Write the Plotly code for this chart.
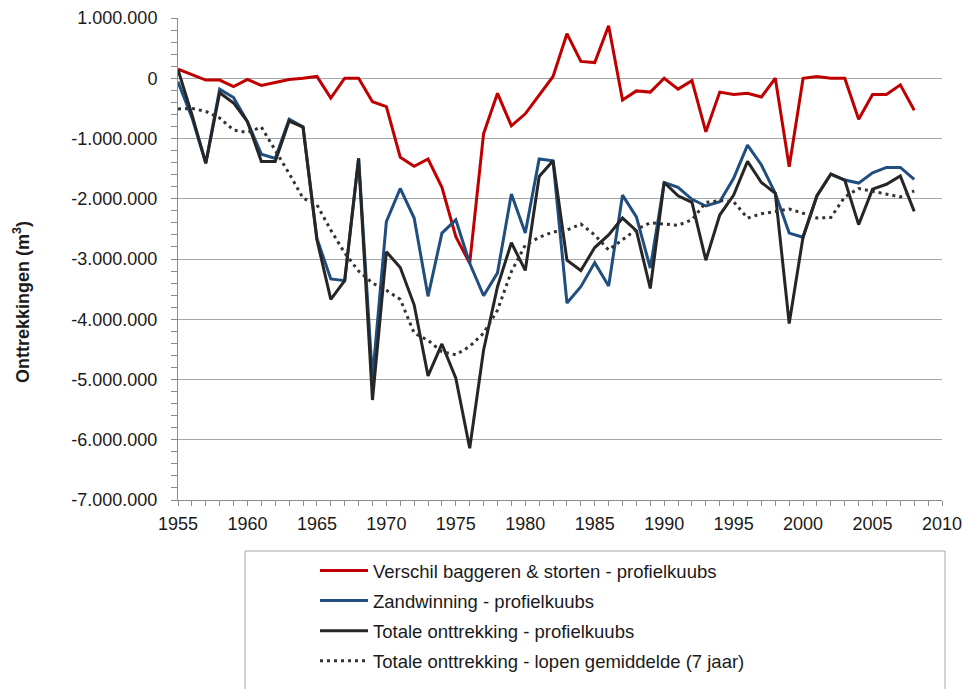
import plotly.graph_objects as go

# Years of observation
years = list(range(1955, 2009))

# Verschil baggeren & storten - profielkuubs (m3)
verschil = [
    150000, 60000, -30000, -30000, -140000, -20000, -120000, -70000, -20000, 0,
    30000, -330000, 0, 0, -390000, -470000, -1310000, -1460000, -1340000, -1810000,
    -2630000, -3070000, -920000, -250000, -790000, -590000, -280000, 30000, 740000, 280000,
    260000, 870000, -360000, -210000, -230000, 0, -180000, -40000, -890000, -230000,
    -270000, -250000, -310000, 0, -1470000, 0, 30000, 0, 0, -680000,
    -270000, -270000, -110000, -530000,
]

# Zandwinning - profielkuubs (m3)
zandwinning = [
    -60000, -650000, -1410000, -180000, -320000, -720000, -1260000, -1330000, -680000, -810000,
    -2660000, -3330000, -3360000, -1330000, -4980000, -2380000, -1830000, -2320000, -3620000, -2570000,
    -2350000, -3070000, -3610000, -3230000, -1920000, -2570000, -1340000, -1370000, -3730000, -3460000,
    -3060000, -3450000, -1940000, -2300000, -3150000, -1730000, -1810000, -2010000, -2120000, -2050000,
    -1660000, -1110000, -1440000, -1910000, -2570000, -2640000, -1950000, -1590000, -1690000, -1740000,
    -1570000, -1480000, -1480000, -1680000,
]

# Totale onttrekking - profielkuubs (m3)
totaal = [
    140000, -600000, -1410000, -240000, -410000, -720000, -1380000, -1380000, -710000, -810000,
    -2680000, -3670000, -3360000, -1330000, -5340000, -2880000, -3140000, -3760000, -4940000, -4410000,
    -4980000, -6140000, -4510000, -3460000, -2730000, -3190000, -1630000, -1370000, -3020000, -3190000,
    -2810000, -2600000, -2320000, -2530000, -3490000, -1730000, -1950000, -2060000, -3020000, -2270000,
    -1940000, -1380000, -1730000, -1910000, -4070000, -2630000, -1950000, -1590000, -1690000, -2430000,
    -1840000, -1760000, -1620000, -2210000,
]

# Totale onttrekking - lopen gemiddelde (7 jaar) (m3)
gemiddelde = [
    -510000, -500000, -550000, -660000, -860000, -900000, -810000, -1190000, -1580000, -1990000,
    -2100000, -2520000, -2900000, -3200000, -3400000, -3520000, -3670000, -4230000, -4350000, -4540000,
    -4590000, -4450000, -4230000, -3850000, -3210000, -2770000, -2640000, -2550000, -2520000, -2420000,
    -2600000, -2850000, -2680000, -2510000, -2400000, -2420000, -2440000, -2350000, -2060000, -2030000,
    -2050000, -2320000, -2250000, -2210000, -2170000, -2240000, -2320000, -2310000, -1970000, -1830000,
    -1880000, -1920000, -1970000, -1870000,
]

# Axis ticks
x_ticks = list(range(1955, 2011, 5))
y_ticks = list(range(-7000000, 1000001, 1000000))
y_ticktext = [f"{v:,}".replace(",", ".") for v in y_ticks]

FONT = "Liberation Sans, Arial, sans-serif"
GRID = "#a6a6a6"
AXIS = "#8c8c8c"
TEXT = "#1a1a1a"
TICK_SIZE = 18
LEGEND_SIZE = 18.5

series = [
    ("Verschil baggeren & storten - profielkuubs", verschil, dict(color="#c00000", width=3)),
    ("Zandwinning - profielkuubs", zandwinning, dict(color="#1f4e7f", width=3)),
    ("Totale onttrekking - profielkuubs", totaal, dict(color="#262626", width=3)),
    ("Totale onttrekking - lopen gemiddelde (7 jaar)", gemiddelde,
     dict(color="#333333", width=3, dash="3px,4px")),
]

fig = go.Figure()
for i, (name, vals, line) in enumerate(series):
    fig.add_trace(go.Scatter(
        x=years, y=vals, mode="lines", name=name, line=line,
        legendgroup=f"g{i}",
    ))

fig.update_layout(
    width=966, height=689,
    margin=dict(l=178, r=24, t=18, b=189, pad=0, autoexpand=False),
    paper_bgcolor="white", plot_bgcolor="white",
    font=dict(family=FONT, size=TICK_SIZE, color=TEXT),
    showlegend=True,
    legend=dict(
        xref="container", yref="container",
        x=315 / 966, xanchor="left", y=1 - 552 / 689, yanchor="top",
        bgcolor="rgba(0,0,0,0)", borderwidth=0,
        font=dict(family=FONT, size=LEGEND_SIZE, color=TEXT),
        itemwidth=48, tracegroupgap=3,
    ),
    xaxis=dict(
        range=[1955, 2010], tickvals=x_ticks,
        showgrid=False, zeroline=False,
        showline=True, linecolor=AXIS, linewidth=1,
        ticks="outside", ticklen=5, tickcolor=AXIS,
        minor=dict(dtick=1, ticks="outside", ticklen=5, tickcolor=AXIS, showgrid=False),
        ticklabelstandoff=2,
        tickfont=dict(family=FONT, size=TICK_SIZE, color=TEXT),
    ),
    yaxis=dict(
        range=[-7000000, 1000000], tickvals=y_ticks, ticktext=y_ticktext,
        showgrid=True, gridcolor=GRID, gridwidth=1, zeroline=False,
        showline=True, linecolor=AXIS, linewidth=1,
        ticks="outside", ticklen=6, tickcolor=AXIS,
        minor=dict(dtick=200000, ticks="outside", ticklen=6, tickcolor=AXIS, showgrid=False),
        ticklabelstandoff=10,
        tickfont=dict(family=FONT, size=TICK_SIZE, color=TEXT),
    ),
    shapes=[dict(
        type="rect", xref="paper", yref="paper",
        x0=(245 - 178) / 764, x1=(945 - 178) / 764,
        y0=(500 - 551) / 482, y1=(500 - 720) / 482,
        line=dict(color="#a6a6a6", width=1), fillcolor="rgba(0,0,0,0)",
    )],
    annotations=[dict(
        text="<b>Onttrekkingen (m<sup>3</sup>)</b>",
        textangle=-90, xref="paper", yref="paper",
        x=(21 - 178) / 764, y=(500 - 302) / 482,
        xanchor="center", yanchor="middle", showarrow=False,
        font=dict(family=FONT, size=18, color=TEXT),
    )],
)

fig.write_html("out.html")
